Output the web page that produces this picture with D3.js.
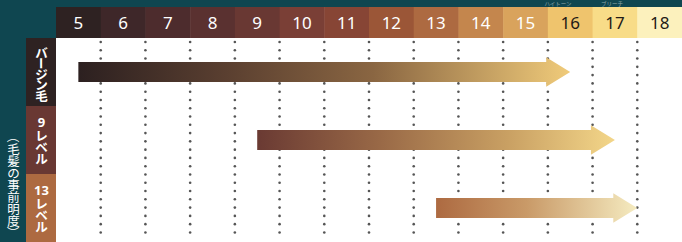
<!DOCTYPE html>
<html><head><meta charset="utf-8">
<script src="https://cdn.jsdelivr.net/npm/d3@7"></script>
<style>
html,body{margin:0;padding:0;background:#fff;}
svg{display:block;}
</style></head>
<body>
<svg id="c" width="682" height="242"></svg>
<script>
// ---- data ----
const levels = [5,6,7,8,9,10,11,12,13,14,15,16,17,18];
const levelColors = ["#2e2222","#3e2729","#4d2c2d","#5a3130","#693833","#7a3f36","#874535","#9b5637","#ad6a41","#c4864d","#d9a35c","#efc46d","#f8dc88","#fcf1bd"];
const levelTextColors = ["#fff","#fff","#fff","#fff","#fff","#fff","#fff","#fff","#fff","#fff","#fff","#231a16","#231a16","#231a16"];
const categories = ["バージン毛","9レベル","13レベル"];
const categoryNum = ["","9","13"];
const categoryRest = ["バージン毛","レベル","レベル"];
const categoryColors = ["#2e2222","#693833","#ad6a41"];
const rangeStart = [5, 9, 13];
const rangeEnd = [16, 17, 17.5];
const gradStops = [
  [["#2c2020",0],["#5a3f30",0.3],["#8a6642",0.6],["#f0cb7a",1]],
  [["#6a3a33",0],["#9a6a47",0.35],["#c9a063",0.7],["#f3d689",1]],
  [["#ad6a41",0],["#c99a68",0.45],["#f5ebc0",1]]
];
const axisTitle = "（毛髪の事前明度）";
const topNotes = ["ハイトーン","ブリーチ"];

// ---- layout ----
const W = 682, H = 242;
const svg = d3.select("#c");
const colX = d3.scaleBand().domain(levels).range([56, W]);
const lvX = d3.scaleLinear().domain([4.5, 18.5]).range([56, W]);
const rowY = d3.scaleBand().domain(categories).range([38, H]);

// background teal
svg.append("rect").attr("x",0).attr("y",0).attr("width",W).attr("height",7).attr("fill","#0f4650");
svg.append("rect").attr("x",0).attr("y",0).attr("width",56).attr("height",38).attr("fill","#0f4650");
svg.append("rect").attr("x",0).attr("y",0).attr("width",26).attr("height",H).attr("fill","#0f4650");

// faint top notes
svg.selectAll(".note").data(topNotes).join("text").attr("class","note")
  .attr("x",(d,i)=>[558,612][i]).attr("y",5.5).attr("text-anchor","middle")
  .attr("font-family","Noto Sans CJK JP").attr("font-size",5.5).attr("fill","#8fa7aa").text(d=>d);

// header cells
const hdr = svg.append("g");
hdr.selectAll("rect").data(levels).join("rect")
  .attr("x",d=>colX(d)).attr("y",7).attr("width",colX.bandwidth()+0.5).attr("height",31)
  .attr("fill",(d,i)=>levelColors[i]);
hdr.selectAll("text").data(levels).join("text")
  .attr("x",d=>colX(d)+colX.bandwidth()/2).attr("y",29)
  .attr("text-anchor","middle").attr("font-family","Noto Sans, sans-serif")
  .attr("font-size",17).attr("fill",(d,i)=>levelTextColors[i]).text(d=>d);

// vertical text helper: one glyph per position
const rotChars = "ー（）";
function vtext(str, cx, cy0, step, opts) {
  Array.from(str).forEach((ch,k)=>{
    const cy = cy0 + k*step;
    const t = svg.append("text").attr("x",cx).attr("y",cy)
      .attr("text-anchor","middle").attr("dominant-baseline","central")
      .attr("font-family","Noto Sans CJK JP").attr("font-size",opts.size)
      .attr("font-weight",opts.weight||"normal").attr("fill","#fff").text(ch);
    if (rotChars.includes(ch)) t.attr("transform",`rotate(90,${cx},${cy})`);
  });
}

// category cells
const cat = svg.append("g");
cat.selectAll("rect").data(categories).join("rect")
  .attr("x",26).attr("y",d=>rowY(d)).attr("width",30).attr("height",rowY.bandwidth()+0.5)
  .attr("fill",(d,i)=>categoryColors[i]);
categories.forEach((c,i)=>{
  const top = rowY(c);
  let y0 = top + 14.5;
  let step = 10.8;
  if (categoryNum[i]) {
    svg.append("text").attr("x",41.5).attr("y",top+16).attr("text-anchor","middle")
      .attr("dominant-baseline","central")
      .attr("font-family","Noto Sans, sans-serif").attr("font-weight","bold")
      .attr("font-size",13).attr("fill","#fff").text(categoryNum[i]);
    y0 = top + 29;
    step = 11.8;
  }
  vtext(categoryRest[i], 41.5, y0, step, {size:12.5, weight:"bold"});
});

// axis title vertical
vtext(axisTitle, 13.5, 136.5, 12, {size:12.5});

// dotted grid lines at column boundaries
const bounds = levels.slice(1).map(d=>colX(d));
const dotYs = d3.range(24).map(k=>42 + k*8.28);
const grid = svg.append("g").attr("fill","#555");
bounds.forEach(bx=>{
  grid.selectAll(null).data(dotYs).join("circle").attr("cx",bx).attr("cy",d=>d).attr("r",1.3);
});

// gradients
const defs = svg.append("defs");
categories.forEach((c,i)=>{
  const g = defs.append("linearGradient").attr("id","g"+i)
    .attr("gradientUnits","userSpaceOnUse")
    .attr("x1",lvX(rangeStart[i])).attr("x2",lvX(rangeEnd[i])).attr("y1",0).attr("y2",0);
  gradStops[i].forEach(s=>g.append("stop").attr("offset",s[1]).attr("stop-color",s[0]));
});

// arrows
const bodyH = 20, headH = 29.5, headL = 24;
categories.forEach((c,i)=>{
  const cy = rowY(c) + rowY.bandwidth()/2;
  const x0 = lvX(rangeStart[i]), x1 = lvX(rangeEnd[i]);
  const p = d3.path();
  p.moveTo(x0, cy-bodyH/2);
  p.lineTo(x1-headL, cy-bodyH/2);
  p.lineTo(x1-headL, cy-headH/2);
  p.lineTo(x1, cy);
  p.lineTo(x1-headL, cy+headH/2);
  p.lineTo(x1-headL, cy+bodyH/2);
  p.lineTo(x0, cy+bodyH/2);
  p.closePath();
  svg.append("path").attr("d",p.toString()).attr("fill","url(#g"+i+")");
});
</script>
</body></html>
